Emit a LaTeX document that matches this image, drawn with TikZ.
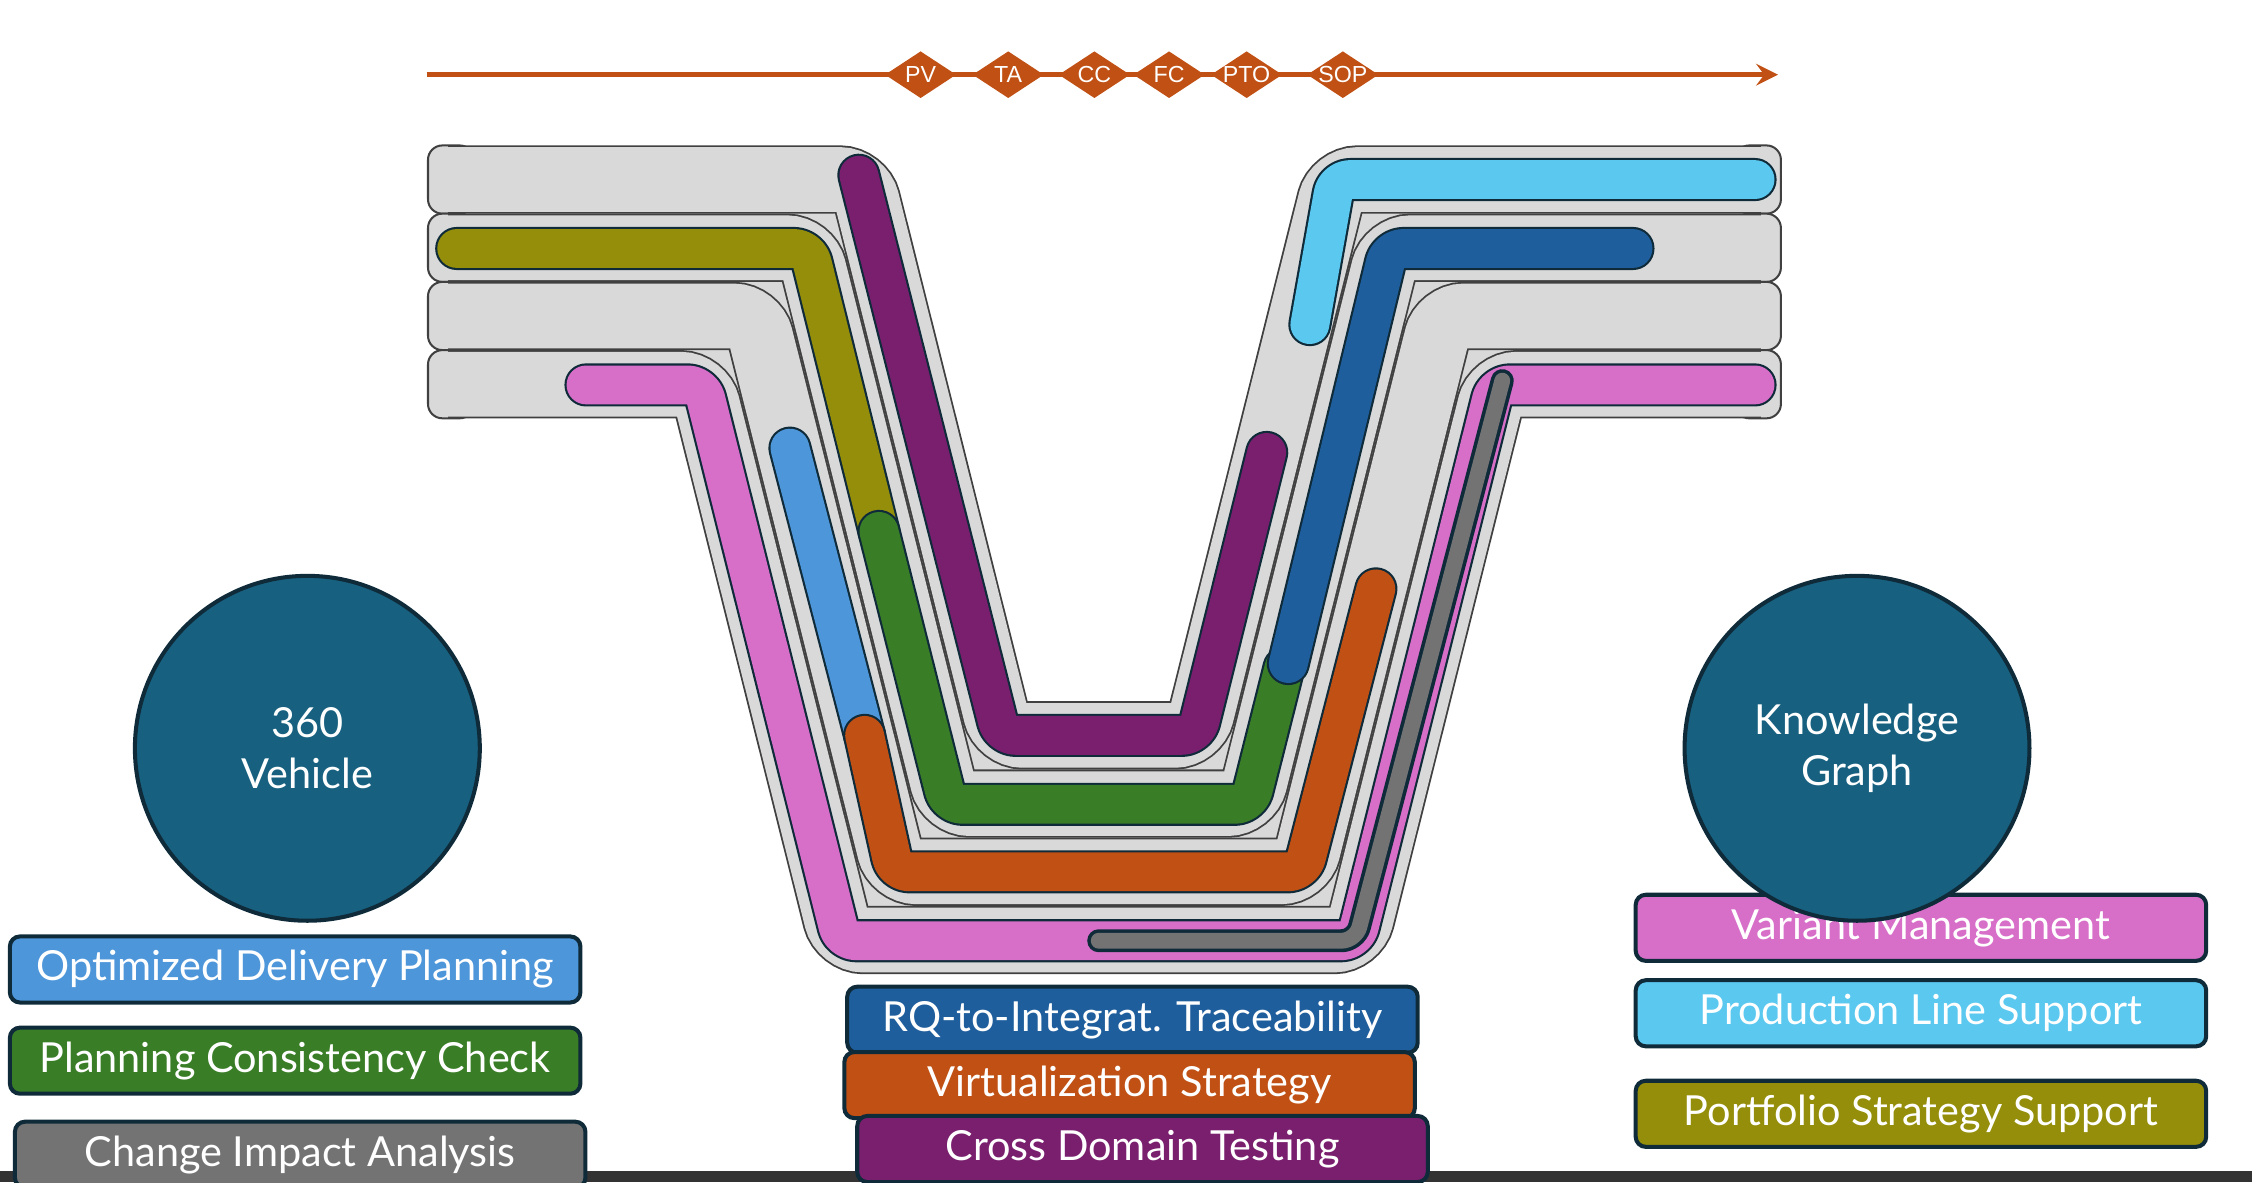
\documentclass[tikz,border=0pt]{standalone}
\usepackage{fontspec}
\setmainfont{Lato}
\newfontfamily\gatefont{Liberation Sans}
\usetikzlibrary{shapes.geometric}

\definecolor{vorange}{HTML}{C05014}
\definecolor{vpurple}{HTML}{7A1F6E}
\definecolor{volive}{HTML}{948E0A}
\definecolor{vgreen}{HTML}{3A7D27}
\definecolor{vblue}{HTML}{4E96DA}
\definecolor{vdark}{HTML}{1F5E9C}
\definecolor{vsky}{HTML}{5BC8F0}
\definecolor{vpink}{HTML}{D76EC8}
\definecolor{vgrey}{HTML}{737373}
\definecolor{vteal}{HTML}{17607F}
\definecolor{vline}{HTML}{0F2B3A}

\tikzset{
  gate/.style={diamond, fill=vorange, inner sep=0pt, minimum width=0.5cm,
    minimum height=0.33cm},
  gatetxt/.style={text=white, inner sep=0pt, font=\fontsize{4.6}{5}\selectfont\gatefont},
  tag/.style={draw=vline, line width=0.8pt, rounded corners=2pt, fill=#1, text=white,
    minimum width=3.97cm, minimum height=0.46cm, inner sep=0pt, font=\fontsize{8.2}{9}\selectfont},
  hub/.style={circle, draw=vline, line width=0.8pt, fill=vteal, text=white, minimum size=2.4cm,
    align=center, font=\fontsize{8.2}{10.2}\selectfont},
  band/.style={line width=0.475cm, rounded corners=0.15cm},
  bandend/.style={fill=black!15, draw=black!75, line width=0.4pt, rounded corners=0.1cm},
  track/.style={line width=0.27cm, line cap=round, line join=round, rounded corners=0.1cm}
}
% geometry of one grey band (k = 0..3)
\newcommand{\bandpath}[1]{%
  (312,125+47.5*#1) -- (600-37*#1,125+47.5*#1) -- (697-37*#1,512+47.5*#1)
  -- (833+37*#1,512+47.5*#1) -- (930+37*#1,125+47.5*#1) -- (1226,125+47.5*#1)}
\newcommand{\colortrack}[2]{%
  \draw[track, line width=0.3cm, color=vline] #2;
  \draw[track, color=#1] #2;}

\begin{document}
\begin{tikzpicture}[x=0.01cm, y=-0.01cm]
\useasboundingbox (0,0) rectangle (1568,823);
\fill[black!80] (0,815) rectangle (1568,823);

% timeline
\coordinate (t0) at (297,52);
\coordinate (t1) at (1238,52);
\draw[vorange, line width=0.9pt, -stealth] (t0) -- (t1);
\foreach \lbl/\px in {PV/641, TA/702, CC/762, FC/814, PTO/868, SOP/935} {
  \node[gate] (g\lbl) at (\px,52) {};
  \node[gatetxt] at (g\lbl) {\lbl};
}

% grey bands
\foreach \k in {1,2}
  \draw[band, line width=0.7cm, black!15] \bandpath{\k};
\foreach \k in {0,...,3} {
  \draw[bandend] (298,101.25+47.5*\k) rectangle (330,148.75+47.5*\k);
  \draw[bandend] (1208,101.25+47.5*\k) rectangle (1240,148.75+47.5*\k);
  \draw[band, black!75] \bandpath{\k};
  \draw[band, line width=0.45cm, black!15] \bandpath{\k};
}

% colored tracks
\colortrack{vpurple}{(598,122) -- (697,512) -- (833,512) -- (882,315)}
\colortrack{volive}{(318,173) -- (563,173) -- (612,370)}
\colortrack{vgreen}{(612,370) -- (660,560) -- (870,560) -- (894,465)}
\colortrack{vblue}{(550,312) -- (602,512)}
\colortrack{vorange}{(602,512) -- (623,607) -- (907,607) -- (958,410)}
\colortrack{vpink}{(408,268) -- (489,268) -- (586,655) -- (944,655) -- (1041,268) -- (1222,268)}
\draw[track, line width=0.16cm, color=vline] (765,655) -- (944,655) -- (1046,265);
\draw[track, line width=0.11cm, color=vgrey] (765,655) -- (944,655) -- (1046,265);
\colortrack{vsky}{(912,226) -- (930,125) -- (1222,125)}
\colortrack{vdark}{(1137,173) -- (967,173) -- (897,462)}

% boxes
\node[tag=vblue] (odp) at (205.5,675) {Optimized Delivery Planning};
\node[tag=vgreen] (pcc) at (205.5,738.5) {Planning Consistency Check};
\node[tag=vgrey] (cia) at (209,804) {Change Impact Analysis};
\node[tag=vdark] (rqt) at (788.5,710) {RQ-to-Integrat. Traceability};
\node[tag=vorange] (vst) at (786.5,755.5) {Virtualization Strategy};
\node[tag=vpurple] (cdt) at (795.5,800) {Cross Domain Testing};
\node[tag=vpink] (vm) at (1337.5,646) {Variant Management};
\node[tag=vsky] (pls) at (1337.5,705.5) {Production Line Support};
\node[tag=volive] (pss) at (1337.5,775.5) {Portfolio Strategy Support};

% hubs
\node[hub] (veh) at (214,521) {360\\Vehicle};
\node[hub] (kg) at (1293,521) {Knowledge\\Graph};
\end{tikzpicture}
\end{document}
